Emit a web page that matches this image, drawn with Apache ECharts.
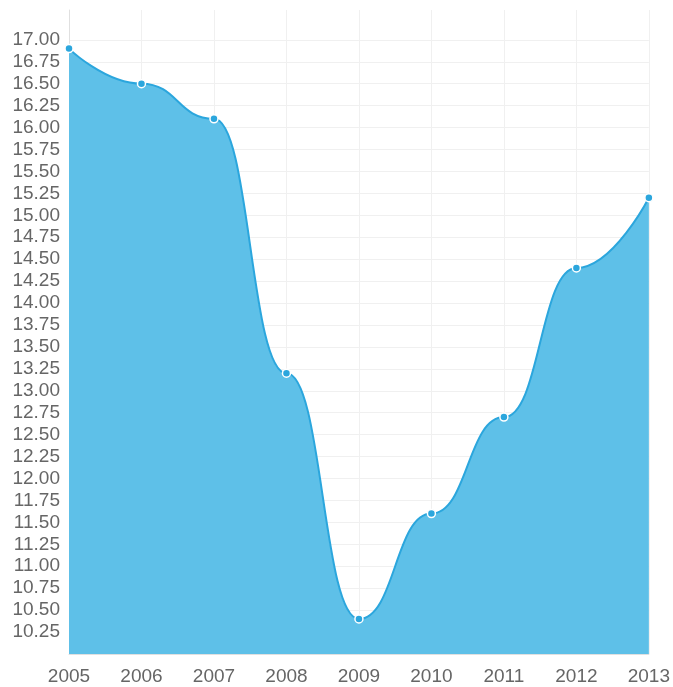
<!DOCTYPE html>
<html>
<head>
<meta charset="utf-8">
<script src="https://cdn.jsdelivr.net/npm/echarts@6/dist/echarts.min.js"></script>
<style>html,body{margin:0;padding:0;background:#fff;}#c{width:673px;height:687px;}</style>
</head>
<body>
<div id="c"></div>
<script>
const years = ['2005','2006','2007','2008','2009','2010','2011','2012','2013'];
const values = [16.9, 16.5, 16.1, 13.2, 10.4, 11.6, 12.7, 14.4, 15.2];
const yTickLabels = ['10.25','10.50','10.75','11.00','11.25','11.50','11.75','12.00','12.25','12.50','12.75','13.00','13.25','13.50','13.75','14.00','14.25','14.50','14.75','15.00','15.25','15.50','15.75','16.00','16.25','16.50','16.75','17.00'];

const gridColors = [];
for (let i = 0; i < 29; i++) gridColors.push('#f0f0f0');
gridColors.push('rgba(0,0,0,0)', 'rgba(0,0,0,0)');

const chart = echarts.init(document.getElementById('c'), null, {renderer:'canvas'});
chart.setOption({
  animation:false,
  grid:{left:69, right:24, top:10, bottom:33},
  xAxis:{
    type:'category', data:years, boundaryGap:false,
    axisLine:{lineStyle:{color:'#e0e0e0'}},
    axisTick:{show:false},
    axisLabel:{color:'#666', fontSize:19, fontFamily:'Liberation Sans, Arial, sans-serif', margin:13},
    splitLine:{show:true, lineStyle:{color:'#f0f0f0'}}
  },
  yAxis:{
    type:'value', min:10, max:17.34, interval:0.25,
    axisLine:{show:true, lineStyle:{color:'#e0e0e0'}},
    axisTick:{show:false},
    axisLabel:{color:'#666', fontSize:19, fontFamily:'Liberation Sans, Arial, sans-serif', margin:9,
      showMaxLabel:false,
      formatter:function(v){const s=v.toFixed(2);return yTickLabels.indexOf(s)>=0?s:'';}},
    splitLine:{show:true, lineStyle:{color:gridColors}}
  },
  series:[{
    type:'line', data:values, smooth:0.5, smoothMonotone:'x',
    symbol:'circle', symbolSize:8,
    itemStyle:{color:'#2ba6dd', borderColor:'#fff', borderWidth:1.5},
    lineStyle:{color:'#2ba6dd', width:2},
    areaStyle:{color:'#5ec0e8', opacity:1}
  }]
});
</script>
</body>
</html>
